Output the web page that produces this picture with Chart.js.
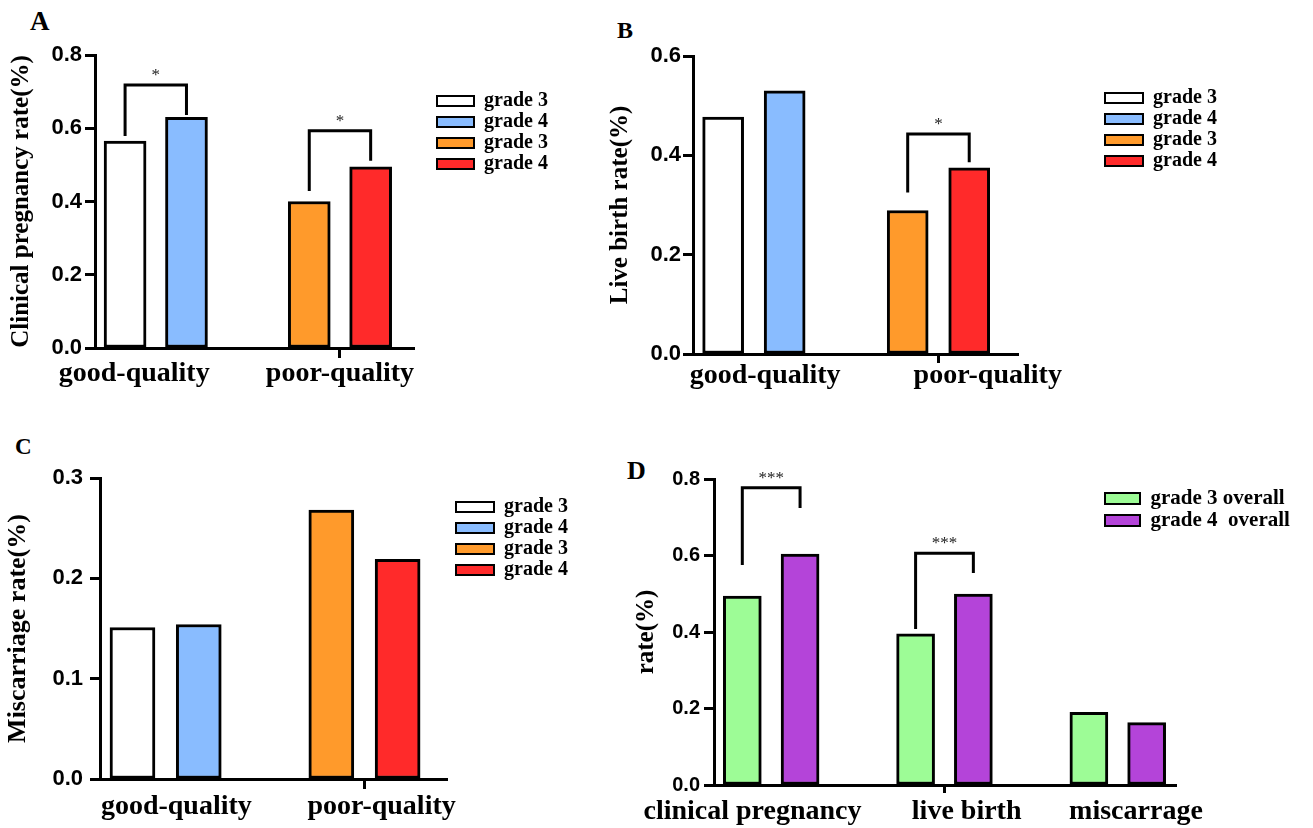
<!DOCTYPE html>
<html>
<head>
<meta charset="utf-8">
<title>Embryo grade and pregnancy outcome</title>
<script src="https://cdn.jsdelivr.net/npm/chart.js@4.4.0/dist/chart.umd.min.js"></script>
<style>
  html, body { margin: 0; padding: 0; background: #fff; }
  body { position: relative; width: 1313px; height: 828px; overflow: hidden; }
  canvas { position: absolute; }
  .tag { position: absolute; font-family: "Liberation Serif", "Times New Roman", serif; font-weight: bold; line-height: 1; color: #000; }
</style>
</head>
<body>
<div class="tag" style="left:30px;top:8px;font-size:27px">A</div>
<div class="tag" style="left:617px;top:18px;font-size:24px">B</div>
<div class="tag" style="left:15px;top:435px;font-size:23px">C</div>
<div class="tag" style="left:627px;top:458px;font-size:26px">D</div>
<canvas id="chartA" width="600" height="400" style="left:0;top:0"></canvas>
<canvas id="chartB" width="713" height="400" style="left:600px;top:0"></canvas>
<canvas id="chartC" width="620" height="428" style="left:0;top:400px"></canvas>
<canvas id="chartD" width="693" height="428" style="left:620px;top:400px"></canvas>
<script>
/*jslint browser:true, indent:2*/
/*globals Chart*/
(function () {
  'use strict';

  var qualityLabels = ['good-quality', 'poor-quality'];
  var gradeLabels = ['grade 3', 'grade 4', 'grade 3', 'grade 4'];
  var gradeGroup = [0, 0, 1, 1]; // quality group of each grade bar
  var pregnancyRate = [0.565, 0.63, 0.40, 0.495];
  var liveBirthRate = [0.477, 0.53, 0.289, 0.375];
  var miscarriageRate = [0.151, 0.154, 0.268, 0.219];

  var outcomeLabels = ['clinical pregnancy', 'live birth', 'miscarrage'];
  var overallLabels = ['grade 3 overall', 'grade 4  overall'];
  var grade3Overall = [0.494, 0.395, 0.19];
  var grade4Overall = [0.604, 0.499, 0.163];

  // significance brackets (leg ends and bar in rate units)
  var pregnancySig = [
    {group: 0, legs: [0.579, 0.636], top: 0.718, text: '*'},
    {group: 1, legs: [0.429, 0.511], top: 0.593, text: '*'}
  ];
  var liveBirthSig = [
    {group: 1, legs: [0.325, 0.386], top: 0.443, text: '*'}
  ];
  var overallSig = [
    {group: 0, legs: [0.575, 0.724], top: 0.777, text: '***'},
    {group: 1, legs: [0.408, 0.554], top: 0.606, text: '***'}
  ];

  var SERIF = '"Liberation Serif", "Times New Roman", serif';
  var SANS = '"Liberation Sans", Arial, sans-serif';
  var SIDE = 1 / 6; // bar offset from the group centre
  var X_MIN = -0.33;
  var LEGEND_PAD = 1;
  var gradeColors = ['#ffffff', '#89bcff', '#ff9a2b', '#ff2a2a'];
  var overallColors = ['#9dfc96', '#b444d9'];

  var sideOf = function (i) {
    var first = gradeGroup.indexOf(gradeGroup[i]) === i;
    return first ? -SIDE : SIDE;
  };

  var gradeSets = function (values) {
    return gradeLabels.map(function (label, i) {
      return {
        label: label,
        backgroundColor: gradeColors[i],
        data: [{x: gradeGroup[i] + sideOf(i), y: values[i]}]
      };
    });
  };

  var overallSets = [grade3Overall, grade4Overall].map(function (values, k) {
    return {
      label: overallLabels[k],
      backgroundColor: overallColors[k],
      data: values.map(function (v, i) { return {x: i + (k ? SIDE : -SIDE), y: v}; })
    };
  });

  var makePanel = function (id, p) {
    var el = document.getElementById(id);
    var a = p.area;
    var ticks = p.groups.map(function (name, i) {
      return {value: i + p.labelShift[i], label: name};
    });
    ticks.push({value: p.markAt, label: '', mark: true});

    // the legend keeps 1px in the layout, then is moved next to the plot
    var legendMover = {
      id: 'legendMover',
      afterLayout: function (chart) {
        var lg = chart.legend, h = lg.height;
        lg.left = p.legendAt[0] - LEGEND_PAD;
        lg.top = p.legendAt[1] - LEGEND_PAD - Math.max((p.legendSize - p.legendBox[1]) / 2, 0);
        lg.width = el.width - lg.left;
        lg.right = el.width;
        lg.bottom = lg.top + h;
      }
    };

    var brackets = {
      id: 'brackets',
      afterDatasetsDraw: function (chart) {
        var ctx = chart.ctx, x = chart.scales.x, y = chart.scales.y;
        p.sig.forEach(function (b) {
          var x1 = x.getPixelForValue(b.group - SIDE);
          var x2 = x.getPixelForValue(b.group + SIDE);
          var yt = y.getPixelForValue(b.top);
          ctx.save();
          ctx.strokeStyle = '#000';
          ctx.lineWidth = 3;
          ctx.beginPath();
          ctx.moveTo(x1, y.getPixelForValue(b.legs[0]));
          ctx.lineTo(x1, yt);
          ctx.lineTo(x2, yt);
          ctx.lineTo(x2, y.getPixelForValue(b.legs[1]));
          ctx.stroke();
          ctx.fillStyle = '#222';
          ctx.font = '17px ' + SERIF;
          ctx.textAlign = 'center';
          ctx.textBaseline = 'alphabetic';
          ctx.fillText(b.text, (x1 + x2) / 2, yt - 5);
          ctx.restore();
        });
      }
    };

    return new Chart(el, {
      type: 'bar',
      data: {datasets: p.datasets},
      options: {
        responsive: false,
        animation: false,
        events: [],
        devicePixelRatio: 1,
        layout: {padding: {left: 0, top: a.top, right: el.width - a.right - 1, bottom: 0}},
        datasets: {
          bar: {
            grouped: false,
            barThickness: p.barWidth,
            borderColor: '#000',
            borderWidth: 3,
            borderSkipped: false
          }
        },
        plugins: {
          tooltip: {enabled: false},
          legend: {
            position: 'right',
            align: 'start',
            maxWidth: 1,
            labels: {
              boxWidth: p.legendBox[0],
              boxHeight: p.legendBox[1],
              padding: LEGEND_PAD,
              color: '#000',
              font: {family: SERIF, weight: 'bold', size: p.legendSize},
              generateLabels: function (chart) {
                return Chart.defaults.plugins.legend.labels.generateLabels(chart).map(function (item) {
                  item.lineWidth = 2;
                  return item;
                });
              }
            }
          }
        },
        scales: {
          x: {
            type: 'linear',
            min: X_MIN,
            max: p.xMax,
            offset: false,
            bounds: 'data',
            afterBuildTicks: function (scale) {
              scale.ticks = ticks.map(function (t) { return {value: t.value, mark: t.mark}; });
            },
            afterFit: function (scale) { scale.height = el.height - a.bottom; },
            ticks: {
              autoSkip: false,
              maxRotation: 0,
              minRotation: 0,
              padding: p.xTick[1],
              color: '#000',
              font: {family: SERIF, weight: 'bold', size: 28, lineHeight: 1},
              callback: function (v, i) { return ticks[i].label; }
            },
            grid: {
              offset: false,
              drawOnChartArea: false,
              tickLength: p.xTick[0],
              tickWidth: 3,
              color: function (c) { return (c.tick && c.tick.mark) ? '#000' : 'rgba(0,0,0,0)'; }
            },
            border: {color: '#000', width: 3}
          },
          y: {
            min: 0,
            max: p.yMax,
            afterFit: function (scale) { scale.width = a.left; },
            ticks: {
              stepSize: p.yStep,
              padding: p.yPad,
              color: '#000',
              font: {family: SANS, weight: 'bold', size: p.yFont},
              callback: function (v) { return v.toFixed(1); }
            },
            grid: {drawOnChartArea: false, tickLength: 10, tickWidth: 3, color: '#000'},
            border: {color: '#000', width: 3},
            title: {
              display: true,
              text: p.yTitle,
              color: '#000',
              padding: {top: p.yTitlePad, bottom: 0},
              font: {family: SERIF, weight: 'bold', size: p.yTitleSize, lineHeight: 1}
            }
          }
        }
      },
      plugins: [legendMover, brackets]
    });
  };

  makePanel('chartA', {
    datasets: gradeSets(pregnancyRate), groups: qualityLabels, sig: pregnancySig,
    area: {left: 95, top: 55, right: 414, bottom: 348},
    xMax: 1.402, yMax: 0.8, yStep: 0.2, barWidth: 42,
    labelShift: [-0.117, 0], markAt: 1, xTick: [10, 1.5],
    yTitle: 'Clinical pregnancy rate(%)', yTitleSize: 25, yTitlePad: 8.6, yFont: 22, yPad: 3,
    legendAt: [437, 96], legendBox: [37, 10], legendSize: 20
  });

  makePanel('chartB', {
    datasets: gradeSets(liveBirthRate), groups: qualityLabels, sig: liveBirthSig,
    area: {left: 93, top: 56, right: 418, bottom: 354},
    xMax: 1.431, yMax: 0.6, yStep: 0.2, barWidth: 41,
    labelShift: [0.061, 0.267], markAt: 1, xTick: [9, -1.5],
    yTitle: 'Live birth rate(%)', yTitleSize: 25, yTitlePad: 8.1, yFont: 22, yPad: 2,
    legendAt: [505, 93], legendBox: [38, 10], legendSize: 20
  });

  makePanel('chartC', {
    datasets: gradeSets(miscarriageRate), groups: qualityLabels, sig: [],
    area: {left: 100, top: 78, right: 447, bottom: 379},
    xMax: 1.415, yMax: 0.3, yStep: 0.1, barWidth: 45,
    labelShift: [0.054, 0.086], markAt: 1, xTick: [10, 3.7],
    yTitle: 'Miscarriage rate(%)', yTitleSize: 26, yTitlePad: 5.1, yFont: 22, yPad: 7,
    legendAt: [456, 102], legendBox: [38, 10], legendSize: 20
  });

  makePanel('chartD', {
    datasets: overallSets, groups: outcomeLabels, sig: overallSig,
    area: {left: 94, top: 79, right: 556, bottom: 385},
    xMax: 2.336, yMax: 0.8, yStep: 0.2, barWidth: 38,
    labelShift: [-0.108, 0.128, 0.105], markAt: 1, xTick: [8, 4.5],
    yTitle: 'rate(%)', yTitleSize: 25, yTitlePad: 14.1, yFont: 20, yPad: 4,
    legendAt: [485, 93], legendBox: [35, 11], legendSize: 21
  });
}());
</script>
</body>
</html>
